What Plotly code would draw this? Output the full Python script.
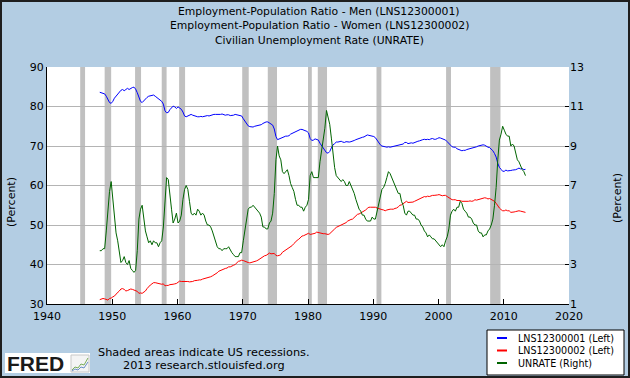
import pandas as pd
import plotly.graph_objects as go

# ---------------- data (quarterly readings, Feb/May/Aug/Nov) ----------------
men = [
    83.6, 83.4, 83.3, 83.2,  82.6, 81.6, 81.0, 80.8,  81.3, 82.1, 82.6, 83.1,
    83.6, 84.1, 84.3, 84.0,  84.3, 84.6, 84.3, 84.6,  84.8, 84.9, 84.4, 83.5,
    82.1, 81.3, 81.0, 81.5,  81.9, 82.3, 82.6, 82.7,  82.8, 82.9, 82.6, 82.3,
    81.9, 81.6, 81.3, 80.6,  78.9, 78.4, 78.5, 79.2,  79.8, 80.1, 79.9, 79.5,
    79.9, 79.6, 79.3, 78.6,  77.6, 77.4, 77.6, 77.8,  78.0, 77.8, 77.6, 77.5,
    77.4, 77.4, 77.5, 77.4,  77.5, 77.7, 77.7, 77.6,  77.8, 77.9, 78.0, 78.0,
    78.0, 77.9, 78.0, 78.1,  78.0, 77.8, 77.9, 77.9,  77.7, 77.7, 77.8, 78.0,
    77.9, 77.8, 77.8, 77.6,  76.9, 76.2, 75.6, 75.1,  74.9, 74.9, 74.8, 75.0,
    75.1, 75.2, 75.2, 75.4,  75.7, 76.0, 76.1, 76.1,  75.8, 75.6, 75.3, 74.3,
    72.4, 71.6, 71.8, 71.9,  72.3, 72.5, 72.5, 72.5,  72.6, 73.0, 73.2, 73.5,
    73.7, 73.9, 73.9, 74.2,  74.2, 74.1, 73.9, 73.7,  73.3, 71.9, 71.4, 71.5,
    71.8, 71.6, 71.5, 70.7,  70.1, 69.6, 69.0, 68.3,  68.2, 68.6, 69.5, 70.3,
    70.6, 71.0, 71.0, 71.1,  71.2, 71.0, 70.9, 71.1,  71.0, 71.0, 71.1, 71.2,
    71.4, 71.6, 71.8, 71.9,  72.0, 72.2, 72.3, 72.5,  72.8, 72.7, 72.6, 72.5,
    72.4, 72.1, 71.5, 70.8,  70.3, 70.0, 69.8, 69.8,  69.7, 69.8, 69.7, 69.8,
    69.8, 69.9, 70.0, 70.2,  70.3, 70.3, 70.5, 70.9,  70.9, 70.6, 70.8, 70.8,
    70.7, 70.9, 71.1, 71.2,  71.3, 71.5, 71.6, 71.7,  71.6, 71.7, 71.6, 71.8,
    71.9, 71.7, 71.7, 71.9,  72.1, 72.0, 71.8, 71.8,  71.5, 71.1, 70.6, 70.1,
    69.8, 69.7, 69.7, 69.3,  69.1, 68.9, 68.8, 68.9,  68.9, 69.1, 69.2, 69.3,
    69.4, 69.6, 69.7, 69.8,  70.0, 70.1, 70.1, 70.3,  70.2, 69.9, 69.7, 69.6,
    69.2, 68.8, 68.1, 67.2,  65.6, 64.6, 64.1, 63.6,  63.6, 63.9, 63.7, 63.7,
    63.8, 63.9, 63.9, 64.0,  64.2, 64.4, 64.2, 64.3,  64.0, 64.1,
]

women = [
    31.1, 31.3, 31.4, 31.3,  31.2, 31.0, 31.4, 31.5,  31.8, 32.0, 32.5, 32.8,
    33.3, 33.8, 33.9, 33.7,  33.3, 33.4, 33.7, 33.8,  33.7, 33.5, 33.3, 33.2,
    32.7, 32.8, 32.7, 33.0,  33.3, 33.9, 34.4, 34.8,  35.1, 35.4, 35.4, 35.3,
    35.1, 35.1, 35.0, 35.1,  34.6, 34.7, 34.7, 34.9,  34.9, 35.0, 35.1, 35.2,
    35.5, 35.8, 35.7, 35.7,  35.7, 35.8, 35.7, 35.6,  35.6, 35.7, 35.9, 35.9,
    36.0, 36.1, 36.1, 36.3,  36.4, 36.6, 36.6, 36.7,  36.9, 37.1, 37.3, 37.5,
    37.9, 38.3, 38.5, 38.7,  39.0, 39.0, 39.1, 39.4,  39.4, 39.7, 39.8, 40.0,
    40.5, 40.8, 40.9, 41.1,  41.0, 40.8, 40.7, 40.5,  40.4, 40.5, 40.6, 40.7,
    40.9, 41.1, 41.4, 41.6,  41.8, 42.2, 42.3, 42.5,  42.9, 42.7, 42.8, 42.8,
    42.3, 42.2, 42.3, 42.5,  43.1, 43.4, 43.6, 43.8,  44.1, 44.5, 44.8, 45.3,
    45.8, 46.1, 46.4, 46.8,  47.2, 47.3, 47.5, 47.7,  47.9, 47.6, 47.7, 47.8,
    47.9, 48.2, 48.1, 48.0,  47.8, 47.8, 47.8, 47.7,  47.6, 47.8, 48.3, 48.6,
    49.0, 49.4, 49.6, 49.8,  50.1, 50.3, 50.5, 50.6,  51.0, 51.3, 51.4, 51.5,
    52.0, 52.4, 52.7, 52.8,  53.0, 53.3, 53.6, 53.8,  54.2, 54.5, 54.5, 54.5,
    54.6, 54.5, 54.3, 54.1,  53.9, 53.9, 53.8, 53.6,  53.8, 54.0, 54.0, 54.0,
    54.0, 54.2, 54.3, 54.6,  55.0, 55.1, 55.4, 55.8,  56.0, 55.7, 55.7, 55.7,
    55.8, 56.0, 56.2, 56.4,  56.7, 56.9, 57.0, 57.2,  57.1, 57.3, 57.2, 57.4,
    57.5, 57.5, 57.5, 57.6,  57.7, 57.6, 57.4, 57.5,  57.5, 57.2, 56.9, 56.7,
    56.4, 56.4, 56.4, 56.2,  56.2, 56.2, 56.0, 56.0,  55.9, 56.0, 56.0, 56.1,
    56.0, 56.1, 56.4, 56.3,  56.4, 56.5, 56.6, 56.8,  56.9, 56.8, 56.6, 56.7,
    56.5, 56.4, 56.0, 55.5,  54.7, 54.3, 53.9, 53.6,  53.6, 53.8, 53.6, 53.6,
    53.2, 53.2, 53.3, 53.4,  53.6, 53.6, 53.5, 53.4,  53.2, 53.2,
]

unrate = [
    3.7, 3.7, 3.8, 3.8,  4.7, 5.9, 6.7, 7.2,  6.4, 5.6, 4.6, 4.2,
    3.5, 3.1, 3.2, 3.4,  3.1, 3.0, 3.2, 2.8,  2.7, 2.6, 2.7, 3.7,
    5.3, 5.8, 6.0, 5.3,  4.7, 4.4, 4.1, 4.2,  4.0, 4.2, 4.1, 4.1,
    3.9, 4.1, 4.2, 4.9,  6.3, 7.4, 7.3, 6.4,  5.8, 5.1, 5.3, 5.6,
    5.1, 5.2, 5.5, 6.3,  6.8, 7.0, 6.8, 6.2,  5.6, 5.5, 5.6, 5.5,
    5.8, 5.7, 5.5, 5.6,  5.5, 5.2, 5.0, 5.0,  4.9, 4.7, 4.4, 4.1,
    3.9, 3.8, 3.8, 3.7,  3.8, 3.8, 3.8, 3.9,  3.7, 3.6, 3.5, 3.4,
    3.4, 3.4, 3.6, 3.6,  4.2, 4.8, 5.2, 5.8,  5.9, 5.9, 6.0, 5.9,
    5.8, 5.7, 5.6, 5.4,  4.9, 4.9, 4.8, 4.8,  5.1, 5.2, 5.6, 6.6,
    8.3, 9.0, 8.5, 8.3,  7.7, 7.6, 7.7, 7.8,  7.5, 7.1, 6.9, 6.7,
    6.3, 6.0, 6.0, 5.9,  5.9, 5.7, 5.9, 6.0,  6.3, 7.5, 7.7, 7.4,
    7.4, 7.4, 7.4, 8.2,  8.8, 9.4, 9.9, 10.8,  10.4, 10.1, 9.4, 8.5,
    7.9, 7.5, 7.4, 7.3,  7.2, 7.3, 7.2, 7.0,  7.0, 7.2, 7.0, 6.8,
    6.6, 6.3, 6.0, 5.8,  5.7, 5.5, 5.5, 5.3,  5.2, 5.2, 5.2, 5.4,
    5.3, 5.3, 5.7, 6.1,  6.6, 6.8, 6.9, 7.1,  7.4, 7.7, 7.6, 7.4,
    7.2, 7.1, 6.8, 6.6,  6.6, 6.2, 6.0, 5.6,  5.5, 5.7, 5.7, 5.6,
    5.5, 5.5, 5.3, 5.3,  5.2, 5.0, 4.9, 4.7,  4.6, 4.4, 4.5, 4.4,
    4.3, 4.3, 4.2, 4.1,  4.0, 3.9, 4.0, 3.9,  4.2, 4.4, 4.8, 5.5,
    5.7, 5.8, 5.7, 5.9,  5.9, 6.2, 6.1, 5.8,  5.7, 5.6, 5.4, 5.4,
    5.3, 5.1, 5.0, 5.0,  4.7, 4.6, 4.6, 4.4,  4.5, 4.5, 4.7, 4.8,
    5.0, 5.3, 6.0, 6.9,  8.3, 9.3, 9.6, 10.0,  9.8, 9.6, 9.5, 9.5,
    9.0, 9.1, 9.0, 8.6,  8.3, 8.2, 8.0, 7.8,  7.7, 7.5,
]

recession_start = ["1945-02-01", "1948-11-01", "1953-07-01", "1957-08-01", "1960-04-01",
                   "1969-12-01", "1973-11-01", "1980-01-01", "1981-07-01", "1990-07-01",
                   "2001-03-01", "2007-12-01"]
recession_end = ["1945-11-01", "1949-11-01", "1954-06-01", "1958-05-01", "1961-03-01",
                 "1970-12-01", "1975-04-01", "1980-08-01", "1982-12-01", "1991-04-01",
                 "2001-12-01", "2009-07-01"]

title_lines = ["Employment-Population Ratio - Men (LNS12300001)",
               "Employment-Population Ratio - Women (LNS12300002)",
               "Civilian Unemployment Rate (UNRATE)"]
legend_labels = ["LNS12300001 (Left)", "LNS12300002 (Left)", "UNRATE (Right)"]
series_colors = ["#0000FF", "#FF0000", "#006400"]

dates = pd.date_range("1948-02-01", periods=len(unrate), freq="3MS")

# ---------------- layout geometry ----------------
W, H = 630, 378
L, R, T, B = 47, 61, 67, 74
PW, PH = W - L - R, H - T - B
FONT = "DejaVu Sans"


def px_x(p):
    return (p - L) / PW


def px_y(p):
    return (T + PH - p) / PH


fig = go.Figure()
fig.add_trace(go.Scatter(x=dates, y=men, mode="lines", name=legend_labels[0],
                         line=dict(color=series_colors[0], width=1), yaxis="y"))
fig.add_trace(go.Scatter(x=dates, y=women, mode="lines", name=legend_labels[1],
                         line=dict(color=series_colors[1], width=1), yaxis="y"))
fig.add_trace(go.Scatter(x=dates, y=unrate, mode="lines", name=legend_labels[2],
                         line=dict(color=series_colors[2], width=1), yaxis="y2"))

shapes = []
for s, e in zip(recession_start, recession_end):
    shapes.append(dict(type="rect", xref="x", yref="paper", x0=s, x1=e, y0=0, y1=1,
                       fillcolor="#C0C0C0", line=dict(width=0), layer="below"))

# legend box (custom)
shapes.append(dict(type="rect", xref="paper", yref="paper",
                   x0=px_x(487), x1=px_x(624), y0=px_y(375), y1=px_y(330),
                   fillcolor="white", line=dict(color="black", width=1)))
annotations = []
for i, (lab, col) in enumerate(zip(legend_labels, series_colors)):
    yy = 338 + 12.5 * i
    shapes.append(dict(type="line", xref="paper", yref="paper",
                       x0=px_x(497), x1=px_x(507), y0=px_y(yy), y1=px_y(yy),
                       line=dict(color=col, width=2)))
    annotations.append(dict(text=lab, xref="paper", yref="paper", x=px_x(516), y=px_y(yy),
                            xanchor="left", yanchor="middle", showarrow=False,
                            font=dict(family=FONT, size=9.6, color="#000")))

# FRED logo block
shapes.append(dict(type="rect", xref="paper", yref="paper",
                   x0=px_x(5), x1=px_x(90), y0=px_y(373), y1=px_y(353),
                   fillcolor="white", line=dict(width=0)))
shapes.append(dict(type="rect", xref="paper", yref="paper",
                   x0=px_x(71), x1=px_x(89), y0=px_y(372), y1=px_y(355),
                   fillcolor="#F4F4F4", line=dict(color="#C8C8C8", width=1)))
pts = [(72, 370), (75, 367), (78, 368), (81, 364), (84, 365), (88, 358)]
path = "M " + " L ".join(f"{px_x(a):.4f},{px_y(b):.4f}" for a, b in pts)
shapes.append(dict(type="path", xref="paper", yref="paper", path=path,
                   line=dict(color="#7AAE5A", width=1)))
pts2 = [(72, 371), (75, 369), (78, 370), (81, 367), (84, 368), (88, 362)]
path2 = "M " + " L ".join(f"{px_x(a):.4f},{px_y(b):.4f}" for a, b in pts2)
shapes.append(dict(type="path", xref="paper", yref="paper", path=path2,
                   line=dict(color="#6A8FC8", width=1)))
annotations.append(dict(text="<b>FRED</b>", xref="paper", yref="paper", x=px_x(5), y=px_y(363.5),
                        xanchor="left", yanchor="middle", showarrow=False,
                        font=dict(family="Liberation Sans", size=21, color="#1A1A1A")))

# outer border
shapes.append(dict(type="rect", xref="paper", yref="paper",
                   x0=px_x(1), x1=px_x(W - 1), y0=px_y(H - 1), y1=px_y(1),
                   line=dict(color="#1E1E1E", width=2)))

# title lines
for i, t in enumerate(title_lines):
    annotations.append(dict(text=t, xref="paper", yref="paper", x=px_x(319), y=px_y(12 + 14 * i),
                            xanchor="center", yanchor="middle", showarrow=False,
                            font=dict(family=FONT, size=10.8, color="#000")))

# axis titles
annotations.append(dict(text="(Percent)", xref="paper", yref="paper", x=px_x(12), y=px_y(202),
                        xanchor="center", yanchor="middle", textangle=-90, showarrow=False,
                        font=dict(family=FONT, size=11, color="#000")))
annotations.append(dict(text="(Percent)", xref="paper", yref="paper", x=px_x(617), y=px_y(198),
                        xanchor="center", yanchor="middle", textangle=-90, showarrow=False,
                        font=dict(family=FONT, size=11, color="#000")))

# footer
annotations.append(dict(text="Shaded areas indicate US recessions.", xref="paper", yref="paper",
                        x=px_x(203.5), y=px_y(352), xanchor="center", yanchor="middle",
                        showarrow=False, font=dict(family=FONT, size=11.3, color="#000")))
annotations.append(dict(text="2013 research.stlouisfed.org", xref="paper", yref="paper",
                        x=px_x(203.5), y=px_y(365.5), xanchor="center", yanchor="middle",
                        showarrow=False, font=dict(family=FONT, size=11.3, color="#000")))

fig.update_layout(
    width=W, height=H,
    margin=dict(l=L, r=R, t=T, b=B, pad=0),
    paper_bgcolor="#B3CDE3",
    plot_bgcolor="white",
    showlegend=False,
    font=dict(family=FONT, size=11, color="#000"),
    shapes=shapes,
    annotations=annotations,
    xaxis=dict(type="date", range=["1940-01-01", "2020-01-01"], dtick="M120",
               tick0="1940-01-01", tickformat="%Y", ticks="inside", ticklen=5,
               tickcolor="black", showline=True, linecolor="black", linewidth=1,
               showgrid=False, zeroline=False, tickfont=dict(size=11),
               ticklabelstandoff=2),
    yaxis=dict(range=[30, 90], dtick=10, tick0=30, showgrid=True, gridcolor="#B4B4B4",
               gridwidth=1, showline=True, linecolor="black", linewidth=1, ticks="",
               zeroline=False, tickfont=dict(size=11)),
    yaxis2=dict(range=[1, 13], dtick=2, tick0=1, overlaying="y", side="right",
                showgrid=False, showline=False, ticks="inside", ticklen=4,
                tickcolor="black", zeroline=False, tickfont=dict(size=11)),
)

fig.write_html("out.html", config={"displayModeBar": False},
               post_script="document.body.style.margin='0px';")
